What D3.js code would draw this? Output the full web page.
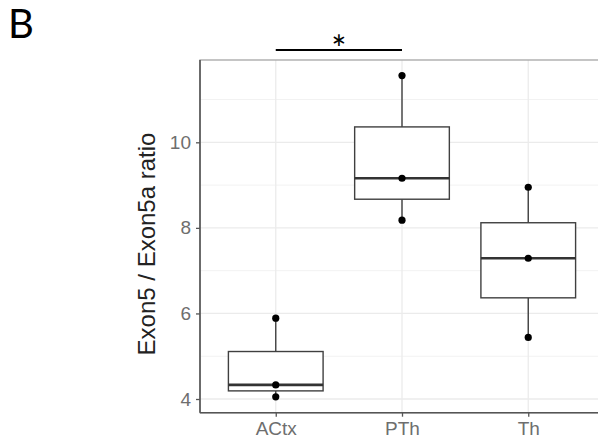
<!DOCTYPE html>
<html>
<head>
<meta charset="utf-8">
<script src="https://cdn.jsdelivr.net/npm/d3@7"></script>
<style>
  body { margin: 0; background: #fff; }
  svg { display: block; }
</style>
</head>
<body>
<div id="chart"></div>
<script>
// data (3 samples per region)
const regions = ['ACtx', 'PTh', 'Th'];
const actxValues = [4.05, 4.33, 5.89];
const pthValues = [8.18, 9.16, 11.56];
const thValues = [5.44, 7.29, 8.95];
const yTicks = [4, 6, 8, 10];
const yMinor = [5, 7, 9, 11];
const yLabel = 'Exon5 / Exon5a ratio';
const panelLetter = 'B';
const sigPair = ['ACtx', 'PTh'];
const sigText = '*';

const width = 598;
const height = 441;
const panel = { left: 200, top: 60, right: 604, bottom: 412.7 };

const svg = d3.select('#chart').append('svg')
    .attr('width', width)
    .attr('height', height);

const x = d3.scalePoint()
    .domain(regions)
    .range([panel.left, panel.right])
    .padding(0.6);

const y = d3.scaleLinear()
    .domain([3.68, 11.924])
    .range([panel.bottom, panel.top]);

const groups = [actxValues, pthValues, thValues].map((vals, i) => {
    const s = vals.slice().sort(d3.ascending);
    return {
        key: regions[i],
        values: s,
        q1: d3.quantile(s, 0.25),
        med: d3.quantile(s, 0.5),
        q3: d3.quantile(s, 0.75),
        min: s[0],
        max: s[s.length - 1]
    };
});

// grid
const grid = svg.append('g');
grid.selectAll('.minor')
    .data(yMinor)
    .enter().append('line')
    .attr('x1', panel.left).attr('x2', panel.right)
    .attr('y1', d => y(d)).attr('y2', d => y(d))
    .style('stroke', '#f2f2f2').style('stroke-width', 1);
grid.selectAll('.major')
    .data(yTicks)
    .enter().append('line')
    .attr('x1', panel.left).attr('x2', panel.right)
    .attr('y1', d => y(d)).attr('y2', d => y(d))
    .style('stroke', '#ebebeb').style('stroke-width', 1.3);
grid.selectAll('.vmajor')
    .data(regions)
    .enter().append('line')
    .attr('x1', d => x(d)).attr('x2', d => x(d))
    .attr('y1', panel.top).attr('y2', panel.bottom)
    .style('stroke', '#ebebeb').style('stroke-width', 1.3);

// panel border (top/right lighter)
svg.append('rect')
    .attr('x', panel.left).attr('y', panel.top)
    .attr('width', panel.right - panel.left)
    .attr('height', panel.bottom - panel.top)
    .style('fill', 'none').style('stroke', '#a6a6a6').style('stroke-width', 1.3);

// boxes
const boxW = x.step() * 0.75;
const box = svg.selectAll('.box')
    .data(groups)
    .enter().append('g');

box.append('line')
    .attr('x1', d => x(d.key)).attr('x2', d => x(d.key))
    .attr('y1', d => y(d.max)).attr('y2', d => y(d.q3))
    .style('stroke', '#404040').style('stroke-width', 1.4);
box.append('line')
    .attr('x1', d => x(d.key)).attr('x2', d => x(d.key))
    .attr('y1', d => y(d.q1)).attr('y2', d => y(d.min))
    .style('stroke', '#404040').style('stroke-width', 1.4);
box.append('rect')
    .attr('x', d => x(d.key) - boxW / 2)
    .attr('y', d => y(d.q3))
    .attr('width', boxW)
    .attr('height', d => y(d.q1) - y(d.q3))
    .style('fill', '#fff').style('stroke', '#404040').style('stroke-width', 1.4);
box.append('line')
    .attr('x1', d => x(d.key) - boxW / 2).attr('x2', d => x(d.key) + boxW / 2)
    .attr('y1', d => y(d.med)).attr('y2', d => y(d.med))
    .style('stroke', '#333').style('stroke-width', 2.6);

box.selectAll('circle')
    .data(d => d.values.map(v => ({ key: d.key, v: v })))
    .enter().append('circle')
    .attr('cx', d => x(d.key))
    .attr('cy', d => y(d.v))
    .attr('r', 3.6)
    .style('fill', '#000');

// axes
const yAxis = svg.append('g')
    .attr('transform', 'translate(' + panel.left + ',0)')
    .call(d3.axisLeft(y).tickValues(yTicks).tickSize(4).tickPadding(5).tickFormat(d3.format('d')));
const xAxis = svg.append('g')
    .attr('transform', 'translate(0,' + panel.bottom + ')')
    .call(d3.axisBottom(x).tickSize(4).tickPadding(5));

[yAxis, xAxis].forEach(a => {
    a.select('.domain').style('stroke', '#555').style('stroke-width', 1.6);
    a.selectAll('.tick line').style('stroke', '#555').style('stroke-width', 1.3);
    a.selectAll('.tick text')
        .style('font-family', '"Liberation Sans", Arial, sans-serif')
        .style('font-size', '19px')
        .style('fill', '#6e6e6e');
});
yAxis.select('.domain').attr('d', 'M0,' + panel.top + 'V' + panel.bottom);
xAxis.select('.domain').attr('d', 'M' + panel.left + ',0H' + panel.right);

// y label
svg.append('text')
    .attr('transform', 'translate(155,' + 244 + ') rotate(-90)')
    .attr('text-anchor', 'middle')
    .style('font-family', '"Liberation Sans", Arial, sans-serif')
    .style('font-size', '24px')
    .style('fill', '#222')
    .text(yLabel);

// significance bar
svg.append('line')
    .attr('x1', x(sigPair[0])).attr('x2', x(sigPair[1]))
    .attr('y1', 50).attr('y2', 50)
    .style('stroke', '#000').style('stroke-width', 2.2);
svg.append('text')
    .attr('x', (x(sigPair[0]) + x(sigPair[1])) / 2)
    .attr('y', 62)
    .attr('text-anchor', 'middle')
    .style('font-family', 'Lato, "Open Sans", sans-serif')
    .style('font-size', '36px')
    .style('fill', '#000')
    .text(sigText);

// panel letter
svg.append('text')
    .attr('x', 8).attr('y', 38)
    .style('font-family', 'Lato, "Open Sans", sans-serif')
    .style('font-size', '40px')
    .style('fill', '#000')
    .text(panelLetter);
</script>
</body>
</html>
